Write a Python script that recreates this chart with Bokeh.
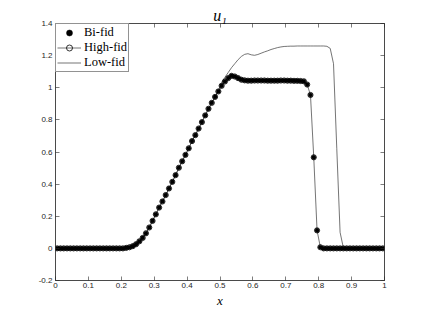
from bokeh.plotting import figure
from bokeh.models import (Range1d, FixedTicker, CustomJSTickFormatter, LinearAxis,
                          Legend, LegendItem)
from bokeh.embed import file_html
from bokeh.resources import INLINE

# grid: cell centres, 100 cells on [0, 1]
x = [round(0.005 + 0.01 * i, 3) for i in range(100)]

bifid = [0.0] * 21 + [
    0.003, 0.007, 0.014, 0.026, 0.044, 0.065, 0.094, 0.13, 0.171, 0.212,
    0.254, 0.292, 0.332, 0.373, 0.414, 0.456, 0.502, 0.542, 0.582, 0.623,
    0.668, 0.705, 0.746, 0.786, 0.828, 0.869, 0.906, 0.943, 0.977, 1.012,
    1.039, 1.06, 1.074, 1.07, 1.06, 1.05, 1.046,
    1.044, 1.044, 1.045, 1.045, 1.045, 1.045, 1.044, 1.044, 1.044, 1.044,
    1.045, 1.045, 1.044, 1.044, 1.043, 1.043, 1.042,
    1.04, 1.02, 0.955, 0.567, 0.112, 0.007] + [0.0] * 19

hifid = [0.0] * 21 + [
    0.003, 0.007, 0.014, 0.026, 0.044, 0.065, 0.094, 0.13, 0.171, 0.212,
    0.254, 0.292, 0.332, 0.373, 0.414, 0.456, 0.502, 0.542, 0.582, 0.623,
    0.668, 0.705, 0.746, 0.786, 0.828, 0.869, 0.906, 0.943, 0.977, 1.012,
    1.039, 1.06, 1.074, 1.07, 1.06, 1.05, 1.046,
    1.044, 1.044, 1.045, 1.045, 1.045, 1.045, 1.044, 1.044, 1.044, 1.044,
    1.045, 1.045, 1.044, 1.044, 1.043, 1.043, 1.042,
    1.04, 1.02, 0.955, 0.567, 0.112, 0.007] + [0.0] * 19

lowfid = [0.0] * 21 + [
    0.003, 0.007, 0.014, 0.026, 0.044, 0.065, 0.094, 0.13, 0.171, 0.212,
    0.254, 0.292, 0.332, 0.373, 0.414, 0.456, 0.502, 0.542, 0.582, 0.623,
    0.668, 0.705, 0.746, 0.786, 0.828, 0.869, 0.906, 0.943, 0.98,
    1.032, 1.065, 1.095, 1.125, 1.15, 1.175, 1.195, 1.208, 1.212, 1.205,
    1.202, 1.207, 1.215, 1.223, 1.23, 1.238, 1.244, 1.25, 1.254, 1.257,
    1.258, 1.259, 1.259, 1.26, 1.26, 1.26, 1.26, 1.26, 1.26, 1.26, 1.26, 1.26, 1.258,
    1.245, 1.15, 0.62, 0.1, 0.003] + [0.0] * 12

x_ticks = [0, 0.1, 0.2, 0.3, 0.4, 0.5, 0.6, 0.7, 0.8, 0.9, 1]
y_ticks = [-0.2, 0, 0.2, 0.4, 0.6, 0.8, 1, 1.2, 1.4]
title_text = "u\u2081"
x_label = "x"
series_names = ["Bi-fid", "High-fid", "Low-fid"]

AX = "#262626"
SERIF = "Liberation Serif"
SANS = "Liberation Sans"

p = figure(width=416, height=310, output_backend="svg", toolbar_location=None,
           x_range=Range1d(0, 1), y_range=Range1d(-0.2, 1.4),
           min_border_left=55, min_border_right=32, min_border_top=23,
           min_border_bottom=27)
p.background_fill_color = "white"
p.border_fill_color = "white"
p.outline_line_color = AX
p.outline_line_width = 0.6
p.grid.visible = False

p.title.text = title_text
p.title.text_font = SERIF
p.title.text_font_style = "italic"
p.title.text_font_size = "16px"
p.title.text_color = "black"
p.title.align = "center"
p.title.standoff = 0
p.title.offset = 0

fmt = CustomJSTickFormatter(code="return Number(tick.toFixed(2)).toString();")
blank = CustomJSTickFormatter(code="return '';")

def style(ax, ticks, formatter, labels=True):
    ax.ticker = FixedTicker(ticks=ticks)
    ax.formatter = formatter
    ax.axis_line_color = AX
    ax.axis_line_width = 0.6
    ax.major_tick_line_color = AX
    ax.major_tick_line_width = 0.6
    ax.major_tick_in = 4
    ax.major_tick_out = 0
    ax.minor_tick_line_color = None
    ax.major_label_text_font = SANS
    ax.major_label_text_color = AX
    ax.major_label_text_font_size = "8px" if labels else "0px"
    ax.major_label_standoff = 3 if labels else 0

style(p.xaxis[0], x_ticks, fmt)
style(p.yaxis[0], y_ticks, fmt)
p.xaxis[0].major_label_standoff = 2
p.xaxis[0].axis_label = x_label
p.xaxis[0].axis_label_text_font = SERIF
p.xaxis[0].axis_label_text_font_style = "italic"
p.xaxis[0].axis_label_text_font_size = "13px"
p.xaxis[0].axis_label_text_color = "black"
p.xaxis[0].axis_label_standoff = 2

top = LinearAxis()
style(top, x_ticks, blank, labels=False)
p.add_layout(top, "above")
right = LinearAxis()
style(right, y_ticks, blank, labels=False)
p.add_layout(right, "right")

low = p.line(x, lowfid, line_color="#3a3a3a", line_width=0.7)
hi_line = p.line(x, hifid, line_color="#3a3a3a", line_width=0.7)
hi_pts = p.scatter(x, hifid, marker="circle", size=5.2, fill_color=None,
                   line_color="black", line_width=0.8)
bi = p.scatter(x, bifid, marker="circle", size=4.2, fill_color="black",
               line_color="black", line_width=0.5)

legend = Legend(items=[
    LegendItem(label=series_names[0], renderers=[bi]),
    LegendItem(label=series_names[1], renderers=[hi_line, hi_pts]),
    LegendItem(label=series_names[2], renderers=[low]),
], location="top_left")
legend.margin = 0
legend.padding = 1
legend.spacing = 0
legend.label_height = 15
legend.glyph_height = 15
legend.glyph_width = 24
legend.label_standoff = 3
legend.label_text_font = SERIF
legend.label_text_font_size = "12.5px"
legend.label_text_color = "black"
legend.border_line_color = AX
legend.border_line_width = 0.6
legend.background_fill_color = "white"
legend.background_fill_alpha = 1
p.add_layout(legend)

open("out.html", "w").write(file_html(p, INLINE))
